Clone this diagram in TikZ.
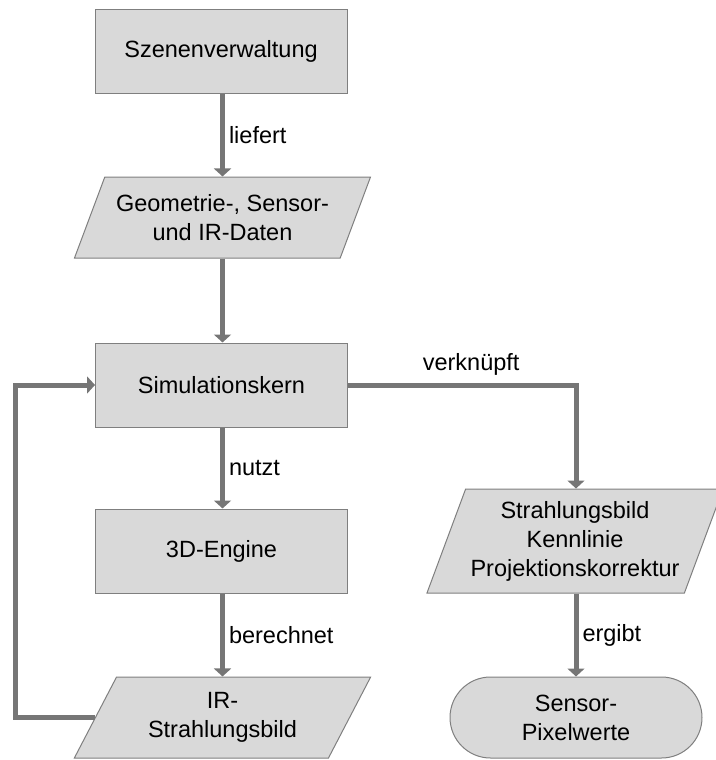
\documentclass[tikz,border=0pt]{standalone}
\usepackage{fontspec}
\setmainfont{Liberation Sans}
\usetikzlibrary{arrows.meta,shapes.geometric,shapes.misc}
\definecolor{boxfill}{HTML}{D9D9D9}
\definecolor{boxline}{HTML}{7F7F7F}
\definecolor{arrowc}{HTML}{767676}
\begin{document}
\begin{tikzpicture}[x=1pt,y=-1pt,
  font=\fontsize{23.5}{29}\selectfont,
  proc/.style={draw=boxline, fill=boxfill, line width=1pt, minimum width=252pt, minimum height=84pt, align=center, inner sep=0pt},
  data/.style={trapezium, trapezium stretches=true, trapezium left angle=59.35, trapezium right angle=120.65, draw=boxline, fill=boxfill, line width=1pt, minimum width=297pt, minimum height=81pt, align=center, inner sep=0pt},
  term/.style={rounded rectangle, draw=boxline, fill=boxfill, line width=1pt, minimum width=252pt, minimum height=81pt, align=center, inner sep=0pt},
  arr/.style={draw=arrowc, line width=5pt, -{Triangle[length=8pt,width=17pt]}},
  lab/.style={inner sep=2pt, text=black}]
\useasboundingbox (0,0) rectangle (715,760);
\node[proc] (szen) at (221,51.5) {Szenenverwaltung};
\node[data] (geo) at (222.5,217.5) {Geometrie-, Sensor-\\und IR-Daten};
\node[proc] (sim) at (221.5,385) {Simulationskern};
\node[proc] (eng) at (221.5,551) {3D-Engine};
\node[data] (ir) at (222.5,717.5) {IR-\\Strahlungsbild};
\node[data, minimum height=104pt, trapezium left angle=65.2, trapezium right angle=114.8] (strb) at (575,541) {Strahlungsbild\\Kennlinie\\Projektionskorrektur};
\node[term] (pix) at (576,717.5) {Sensor-\\Pixelwerte};
\coordinate (loop) at (15,385);

\draw[arr] (szen.south -| geo.north) -- node[lab, right=2pt] {liefert} (geo.north);
\draw[arr] (geo.south) -- (sim.north -| geo.south);
\draw[arr] (sim.south -| geo.south) -- node[lab, right=2pt] {nutzt} (eng.north -| geo.south);
\draw[arr] (eng.south -| ir.north) -- node[lab, right=2pt] {berechnet} (ir.north);
\draw[arr] (ir.left side) -- (ir.left side -| loop) -- (loop) -- (sim.west);
\draw[arr] (sim.east) -| node[lab, pos=0.27, above=5pt] {verknüpft} (strb.top side -| pix.north);
\draw[arr] (strb.bottom side -| pix.north) -- node[lab, right=2pt] {ergibt} (pix.north);
\end{tikzpicture}
\end{document}
